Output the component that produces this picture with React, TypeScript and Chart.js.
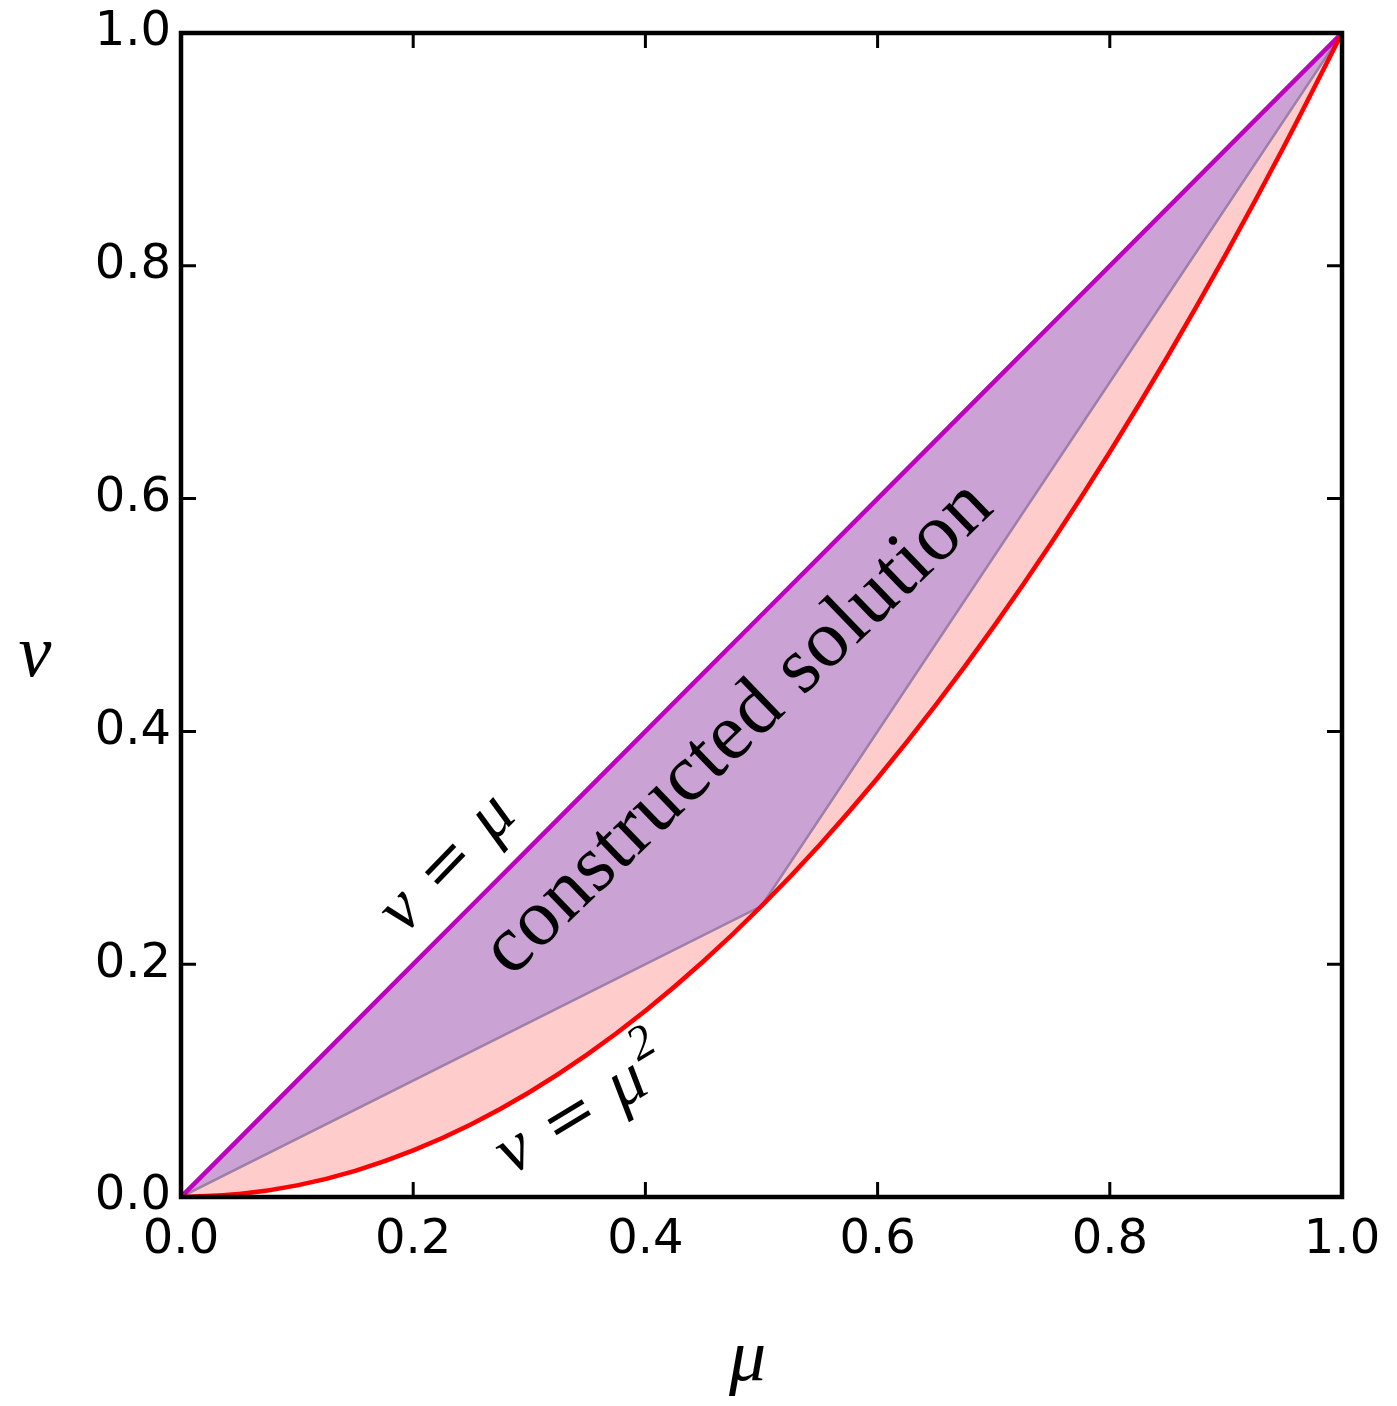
import React, { useEffect, useRef } from "react";
import { Chart, registerables } from "chart.js";

Chart.register(...registerables);

// ---- data ----
const muGrid = [0, 0.05, 0.1, 0.15, 0.2, 0.25, 0.3, 0.35, 0.4, 0.45, 0.5, 0.55, 0.6, 0.65, 0.7, 0.75, 0.8, 0.85, 0.9, 0.95, 1.0];
const nuSquare = [0, 0.0025, 0.01, 0.0225, 0.04, 0.0625, 0.09, 0.1225, 0.16, 0.2025, 0.25, 0.3025, 0.36, 0.4225, 0.49, 0.5625, 0.64, 0.7225, 0.81, 0.9025, 1.0];
const nuDiagonal = [0, 0.05, 0.1, 0.15, 0.2, 0.25, 0.3, 0.35, 0.4, 0.45, 0.5, 0.55, 0.6, 0.65, 0.7, 0.75, 0.8, 0.85, 0.9, 0.95, 1.0];
const constructedMu = [0, 0.5, 1.0];
const constructedNu = [0, 0.25, 1.0];
const tickValues = [0, 0.2, 0.4, 0.6, 0.8, 1.0];
const tickLabels = ["0.0", "0.2", "0.4", "0.6", "0.8", "1.0"];

const xTitle = "μ";
const yTitle = "ν";
const solutionLabel = "constructed solution";

const W = 1397;
const H = 1406;

type Part = { t: string; font: string; gap?: number; rise?: number };

function drawRun(ctx: CanvasRenderingContext2D, parts: Part[], cx: number, cy: number, angleDeg: number, vShift: number) {
  ctx.save();
  ctx.translate(cx, cy);
  ctx.rotate((angleDeg * Math.PI) / 180);
  ctx.textAlign = "left";
  ctx.textBaseline = "alphabetic";
  ctx.fillStyle = "#000";
  const widths = parts.map((p) => {
    ctx.font = p.font;
    return ctx.measureText(p.t).width;
  });
  let total = 0;
  parts.forEach((p, i) => (total += (p.gap || 0) + widths[i]));
  let x = -total / 2;
  parts.forEach((p, i) => {
    x += p.gap || 0;
    ctx.font = p.font;
    ctx.fillText(p.t, x, vShift - (p.rise || 0));
    x += widths[i];
  });
  ctx.restore();
}

const MI = "italic 70px 'Liberation Serif'";
const EQ = "64px 'DejaVu Serif'";
const SUP = "italic 48px 'Liberation Serif'";

const framePlugin = {
  id: "frame",
  afterDatasetsDraw(chart: any) {
    const { ctx, chartArea: a, scales } = chart;
    const TL = 15;
    ctx.save();
    ctx.strokeStyle = "#000";
    ctx.lineWidth = 3;
    ctx.beginPath();
    for (const v of tickValues) {
      const px = scales.x.getPixelForValue(v);
      const py = scales.y.getPixelForValue(v);
      ctx.moveTo(px, a.bottom);
      ctx.lineTo(px, a.bottom - TL);
      ctx.moveTo(px, a.top);
      ctx.lineTo(px, a.top + TL);
      ctx.moveTo(a.left, py);
      ctx.lineTo(a.left + TL, py);
      ctx.moveTo(a.right, py);
      ctx.lineTo(a.right - TL, py);
    }
    ctx.stroke();
    ctx.lineWidth = 4.5;
    ctx.strokeRect(a.left, a.top, a.right - a.left, a.bottom - a.top);
    ctx.restore();
  },
};

const textPlugin = {
  id: "texts",
  afterDraw(chart: any) {
    const { ctx, chartArea: a, scales } = chart;
    const sx = (v: number) => scales.x.getPixelForValue(v);
    const sy = (v: number) => scales.y.getPixelForValue(v);

    // constructed solution
    ctx.save();
    ctx.translate(sx(0.477), sy(0.406));
    ctx.rotate((-44 * Math.PI) / 180);
    ctx.font = "81px 'Liberation Serif'";
    (ctx as any).letterSpacing = "1px";
    ctx.textAlign = "center";
    ctx.textBaseline = "alphabetic";
    ctx.fillStyle = "#000";
    ctx.fillText(solutionLabel, 0, 27);
    ctx.restore();

    // nu = mu
    drawRun(
      ctx,
      [
        { t: "ν", font: MI },
        { t: "=", font: EQ, gap: 22 },
        { t: "μ", font: MI, gap: 22 },
      ],
      sx(0.23),
      sy(0.286),
      -46,
      18
    );

    // nu = mu^2
    drawRun(
      ctx,
      [
        { t: "ν", font: MI },
        { t: "=", font: EQ, gap: 22 },
        { t: "μ", font: MI, gap: 22 },
        { t: "2", font: SUP, gap: 4, rise: 32 },
      ],
      sx(0.347),
      sy(0.074),
      -31,
      18
    );

    // axis titles
    ctx.save();
    ctx.fillStyle = "#000";
    ctx.font = "italic 74px 'Liberation Serif'";
    ctx.textAlign = "center";
    ctx.textBaseline = "alphabetic";
    ctx.fillText(xTitle, (a.left + a.right) / 2 - 14, a.bottom + 183);
    ctx.fillText(yTitle, a.left - 146, (a.top + a.bottom) / 2 + 61);
    ctx.restore();
  },
};

export default function App() {
  const ref = useRef<HTMLCanvasElement | null>(null);

  useEffect(() => {
    document.body.style.margin = "0";
    const canvas = ref.current;
    if (!canvas) return;

    const pts = (xs: number[], ys: number[]) => xs.map((x, i) => ({ x, y: ys[i] }));

    const tickFont = { family: "'DejaVu Sans'", size: 48 };

    const chart = new Chart(canvas, {
      type: "line",
      data: {
        datasets: [
          {
            label: "nu = mu^2",
            data: pts(muGrid, nuSquare),
            borderColor: "#FF0000",
            borderWidth: 4.5,
            pointRadius: 0,
            fill: false,
            cubicInterpolationMode: "monotone",
            order: 0,
          },
          {
            label: "nu = mu",
            data: pts(muGrid, nuDiagonal),
            borderColor: "#BF00BF",
            borderWidth: 4.5,
            pointRadius: 0,
            fill: false,
            order: 1,
          },
          {
            label: "constructed solution",
            data: pts(constructedMu, constructedNu),
            borderColor: "rgba(150,122,160,0.9)",
            borderWidth: 2.5,
            backgroundColor: "#CBA2D4",
            pointRadius: 0,
            fill: "shape",
            order: 2,
          },
          {
            label: "admissible region",
            data: pts(muGrid, nuSquare),
            borderColor: "rgba(0,0,0,0)",
            borderWidth: 0,
            backgroundColor: "#FFCCCC",
            pointRadius: 0,
            fill: 1,
            cubicInterpolationMode: "monotone",
            order: 3,
          },
        ],
      } as any,
      options: {
        animation: false,
        responsive: false,
        devicePixelRatio: 1,
        layout: { padding: { top: 33, right: 55, left: 0, bottom: 0 } },
        plugins: {
          legend: { display: false },
          tooltip: { enabled: false },
          title: { display: false },
        },
        scales: {
          x: {
            type: "linear",
            min: 0,
            max: 1,
            afterBuildTicks: (s: any) => {
              s.ticks = tickValues.map((v) => ({ value: v }));
            },
            afterFit: (s: any) => {
              s.height = 209;
              s.paddingLeft = 0;
              s.paddingRight = 0;
            },
            ticks: {
              callback: (_v: any, i: number) => tickLabels[i],
              font: tickFont,
              color: "#000",
              padding: 15,
              maxRotation: 0,
              autoSkip: false,
            },
            grid: { display: false, drawTicks: false },
            border: { display: false },
          },
          y: {
            type: "linear",
            min: 0,
            max: 1,
            afterBuildTicks: (s: any) => {
              s.ticks = tickValues.map((v) => ({ value: v }));
            },
            afterFit: (s: any) => {
              s.width = 181;
              s.paddingTop = 0;
              s.paddingBottom = 0;
            },
            ticks: {
              callback: (_v: any, i: number) => tickLabels[i],
              font: tickFont,
              color: "#000",
              padding: 10,
              autoSkip: false,
            },
            grid: { display: false, drawTicks: false },
            border: { display: false },
          },
        },
      } as any,
      plugins: [framePlugin, textPlugin],
    });

    return () => chart.destroy();
  }, []);

  return (
    <div style={{ width: W, height: H, background: "#fff" }}>
      <canvas ref={ref} width={W} height={H} style={{ display: "block", width: W, height: H }} />
    </div>
  );
}
